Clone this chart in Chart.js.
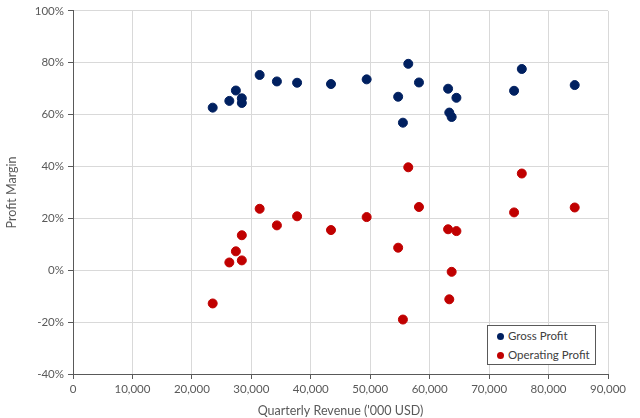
<!DOCTYPE html>
<html>
<head>
<meta charset="utf-8">
<script src="https://cdn.jsdelivr.net/npm/chart.js@4.4.1/dist/chart.umd.min.js"></script>
<style>
    html, body { margin: 0; padding: 0; background: #fff; }
    #wrap { position: relative; width: 640px; height: 418px; }
    #legend {
        position: absolute; left: 487px; top: 325px; width: 98px; height: 38px;
        border: 1px solid #595959; background: #fff;
        font-family: Lato, "Open Sans", sans-serif; font-size: 11.5px; color: #404040;
        padding: 0 0 0 9px; box-sizing: content-box;
    }
    #legend div { height: 19px; line-height: 19px; white-space: nowrap; }
    #legend span.dot {
        display: inline-block; width: 7px; height: 7px; border-radius: 50%;
        margin-right: 4px; vertical-align: 0px;
    }
</style>
</head>
<body>
<div id="wrap">
    <canvas id="myChart" width="640" height="418"></canvas>
    <div id="legend"></div>
</div>
<script>
// quarterly revenue ('000 USD) for each quarter
let revenue = [
    23500, 26300, 27400, 28400, 28400, 31400, 34300, 37700, 43400, 49400,
    56400, 58200, 54700, 55500, 63100, 64500, 63300, 63700, 75500, 74200, 84400,
];
// gross profit margin, %
let grossMargin = [
    62.7, 65.3, 69.3, 66.3, 64.5, 75.3, 72.8, 72.3, 71.8, 73.6,
    79.6, 72.4, 66.9, 56.9, 70.0, 66.5, 60.8, 59.1, 77.6, 69.2, 71.4,
];
// operating profit margin, %  (same quarter order as revenue)
let opMargin = [
    -12.8, 3.0, 7.3, 13.5, 3.8, 23.7, 17.3, 20.8, 15.5, 20.5,
    39.7, 24.4, 8.7, -19.0, 15.8, 15.1, -11.2, -0.6, 37.3, 22.3, 24.2,
];
let seriesNames = ["Gross Profit", "Operating Profit"];
let seriesColors = ["#002060", "#C00000"];

let xTicks = [0, 10000, 20000, 30000, 40000, 50000, 60000, 70000, 80000, 90000];
let yTicks = [-40, -20, 0, 20, 40, 60, 80, 100];

function toPoints(ys) {
    return revenue.map((x, i) => ({ x: x, y: ys[i] }));
}

let font = "Lato, 'Open Sans', sans-serif";
let grey = "#595959";

let ctx = document.getElementById("myChart").getContext("2d");
let chart = new Chart(ctx, {
    type: "scatter",
    data: {
        datasets: [
            {
                label: seriesNames[0],
                data: toPoints(grossMargin),
                backgroundColor: seriesColors[0],
                borderColor: seriesColors[0],
                borderWidth: 1,
                pointRadius: 4.5,
            },
            {
                label: seriesNames[1],
                data: toPoints(opMargin),
                backgroundColor: seriesColors[1],
                borderColor: seriesColors[1],
                borderWidth: 1,
                pointRadius: 4.5,
            },
        ],
    },
    options: {
        responsive: false,
        animation: false,
        layout: { padding: { top: 10, right: 32, left: 0, bottom: 0 } },
        plugins: {
            legend: { display: false },
            tooltip: { enabled: false },
        },
        scales: {
            x: {
                type: "linear",
                min: xTicks[0],
                max: xTicks[xTicks.length - 1],
                afterBuildTicks: (s) => { s.ticks = xTicks.map((v) => ({ value: v })); },
                afterFit: (s) => { s.height = 44; },
                grid: { color: "#d9d9d9", tickColor: grey, tickLength: 5 },
                border: { color: grey, width: 1 },
                ticks: {
                    color: grey,
                    font: { family: font, size: 11.5 },
                    padding: 3,
                    maxRotation: 0,
                    callback: (v) => v.toLocaleString("en-US"),
                },
                title: {
                    display: true,
                    text: "Quarterly Revenue ('000 USD)",
                    color: grey,
                    font: { family: font, size: 12.5 },
                    padding: { top: 2, bottom: 0 },
                },
            },
            y: {
                type: "linear",
                min: yTicks[0],
                max: yTicks[yTicks.length - 1],
                afterBuildTicks: (s) => { s.ticks = yTicks.map((v) => ({ value: v })); },
                afterFit: (s) => { s.width = 73; },
                grid: { color: "#d9d9d9", tickColor: grey, tickLength: 5 },
                border: { color: grey, width: 1 },
                ticks: {
                    color: grey,
                    font: { family: font, size: 11.5 },
                    padding: 4,
                    callback: (v) => v + "%",
                },
                title: {
                    display: true,
                    text: "Profit Margin",
                    color: grey,
                    font: { family: font, size: 12.5 },
                    padding: { top: 4, bottom: 4 },
                },
            },
        },
    },
});

// legend box inside the plot, bottom right
let legend = document.querySelector("#legend");
chart.data.datasets.forEach((ds) => {
    let row = document.createElement("div");
    let dot = document.createElement("span");
    dot.className = "dot";
    dot.style.background = ds.backgroundColor;
    row.appendChild(dot);
    row.appendChild(document.createTextNode(ds.label));
    legend.appendChild(row);
});
</script>
</body>
</html>
